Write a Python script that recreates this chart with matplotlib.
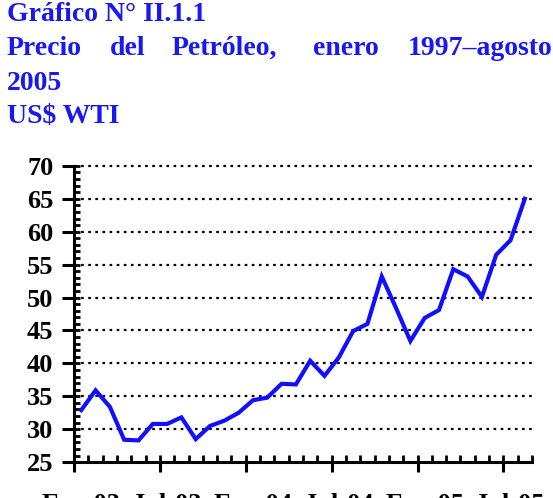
import matplotlib.pyplot as plt
import numpy as np
from matplotlib.ticker import MultipleLocator, FixedLocator
from matplotlib.transforms import blended_transform_factory

# WTI monthly price, Jan 2003 - Aug 2005
precio = [32.9, 35.9, 33.4, 28.4, 28.3, 30.8, 30.8, 31.8, 28.5, 30.5, 31.3, 32.5,
          34.4, 34.8, 36.9, 36.8, 40.4, 38.1, 40.9, 44.9, 46.0, 53.2, 48.4, 43.4,
          46.9, 48.1, 54.3, 53.2, 50.1, 56.5, 58.7, 65.0]
etiquetas = ["Ene-03", "Jul-03", "Ene-04", "Jul-04", "Ene-05", "Jul-05"]

azul_titulo = "#1818f0"
serif = ["Liberation Serif", "DejaVu Serif"]

fig = plt.figure(figsize=(5.53, 4.98), dpi=100)
ax = fig.add_axes([0.134, 0.072, 0.828, 0.595])

x = np.arange(len(precio)) + 0.5
ax.plot(x, precio, color="#1010ff", linewidth=3.0, solid_joinstyle="miter")

ax.set_xlim(0, len(precio))
ax.set_ylim(25, 70)

# dotted grid
for v in range(30, 71, 5):
    ax.axhline(v, color="black", linewidth=1.6, linestyle=(0, (1.2, 2.0)), zorder=0, clip_on=False)

# spines
for s in ["top", "right"]:
    ax.spines[s].set_visible(False)
for s in ["left", "bottom"]:
    ax.spines[s].set_linewidth(2.2)

# y ticks
ax.yaxis.set_major_locator(MultipleLocator(5))
ax.yaxis.set_minor_locator(MultipleLocator(1))
ax.yaxis.remove_overlapping_locs = False
ax.tick_params(axis="y", which="major", direction="out", length=9, width=2.2, pad=6)
ax.tick_params(axis="y", which="minor", direction="in", length=4.5, width=2.0)

# x ticks
ax.xaxis.set_major_locator(FixedLocator(np.arange(0, len(precio), 6)))
ax.xaxis.set_minor_locator(MultipleLocator(1))
ax.xaxis.remove_overlapping_locs = False
ax.tick_params(axis="x", which="major", direction="out", length=7.5, width=2.2, labelbottom=False)
ax.tick_params(axis="x", which="minor", direction="in", length=5, width=2.0)

for lbl in ax.get_yticklabels():
    lbl.set_family(serif)
    lbl.set_fontweight("bold")
    lbl.set_fontsize(19)

# x labels centred on their month
trans = blended_transform_factory(ax.transData, ax.transAxes)
for k, txt in enumerate(etiquetas):
    ax.annotate(txt, xy=(k * 6 + 0.5, 0), xycoords=trans, xytext=(0, -22),
                textcoords="offset points", ha="center", va="top",
                family=serif, fontweight="bold", fontsize=19)

# title block
tkw = dict(family=serif, fontweight="bold", fontsize=20, color=azul_titulo, va="baseline")
fig.text(7 / 553, 1 - 21 / 498, "Gráfico N° II.1.1", **tkw)
palabras = ["Precio", "del", "Petróleo,", "enero", "1997–agosto"]
pos = [7, 110, 172, 313, 408]
for p, w in zip(pos, palabras):
    fig.text(p / 553, 1 - 55 / 498, w, **tkw)
fig.text(7 / 553, 1 - 90 / 498, "2005", **tkw)
fig.text(7 / 553, 1 - 123 / 498, "US$ WTI", **tkw)

fig.savefig("out.png", dpi=100)
